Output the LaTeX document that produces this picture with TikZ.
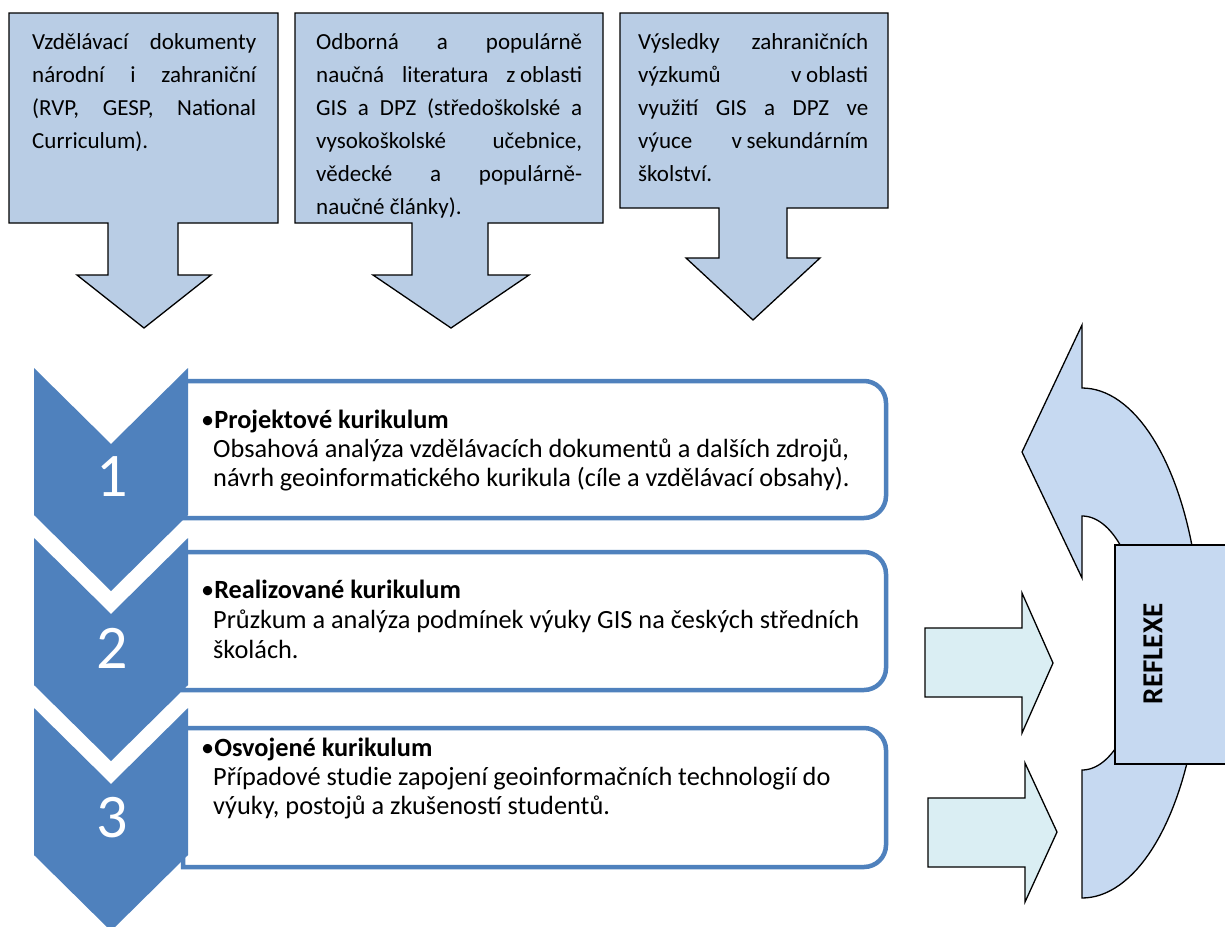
\documentclass[tikz,border=0pt]{standalone}
\usepackage{fontspec}
\setmainfont{Carlito}
\definecolor{chevblue}{HTML}{4F81BD}
\definecolor{callblue}{HTML}{B9CDE5}
\definecolor{refblue}{HTML}{C6D9F1}
\definecolor{arrcyan}{HTML}{DAEEF3}
\tikzset{
 callout/.style={fill=callblue, draw=black, line width=1.3pt, line join=miter},
 chev/.style={fill=chevblue, draw=none},
 rbox/.style={draw=chevblue, line width=4.5pt, fill=white},
 rarrow/.style={fill=arrcyan, draw=black, line width=1.3pt, line join=miter},
 reflexshape/.style={fill=refblue, draw=black, line width=1.3pt, line join=miter},
 ctext/.style={anchor=base west, inner sep=0pt, font=\fontsize{23}{27}\selectfont},
 btext/.style={anchor=base west, inner sep=0pt, font=\fontsize{26.3}{29}\selectfont},
 num/.style={text=white, font=\fontsize{62}{62}\selectfont, inner sep=0pt},
}
\newcommand{\jline}[2]{\makebox[#1pt][s]{#2}}
\begin{document}
\begin{tikzpicture}[x=1pt,y=-1pt]
\clip (0,0) rectangle (1225,926);
\fill[white] (0,0) rectangle (1225,926);
% ---- top callouts
\draw[callout] (9,13) -- (278,13) -- (278,223) -- (178,223) -- (178,275) -- (211,275) -- (144,328) -- (77,275) -- (108,275) -- (108,223) -- (9,223) -- cycle;
\draw[callout] (295,13) -- (603,13) -- (603,223) -- (488,223) -- (488,275) -- (529,275) -- (451,328) -- (373,275) -- (412,275) -- (412,223) -- (295,223) -- cycle;
\draw[callout] (620,13) -- (888,13) -- (888,208) -- (787,208) -- (787,258) -- (820,258) -- (753,320) -- (686,258) -- (719,258) -- (719,208) -- (620,208) -- cycle;
% callout 1 text
\node[ctext] (a1) at (32,49) {\jline{224}{Vzdělávací dokumenty}};
\node[ctext] (a2) at (32,82) {\jline{224}{národní i zahraniční}};
\node[ctext] (a3) at (32,115) {\jline{224}{(RVP, GESP, National}};
\node[ctext] (a4) at (32,148) {Curriculum).};
% callout 2 text
\node[ctext] (b1) at (316,49) {\jline{266}{Odborná a populárně}};
\node[ctext] (b2) at (316,82) {\jline{266}{naučná literatura z\hspace{0.2em}oblasti}};
\node[ctext] (b3) at (316,115) {\jline{266}{GIS a DPZ (středoškolské a}};
\node[ctext] (b4) at (316,148) {\jline{266}{vysokoškolské učebnice,}};
\node[ctext] (b5) at (316,181) {\jline{266}{vědecké a populárně-}};
\node[ctext] (b6) at (316,214) {naučné články).};
% callout 3 text
\node[ctext] (c1) at (638,49) {\jline{230}{Výsledky zahraničních}};
\node[ctext] (c2) at (638,82) {\jline{230}{výzkumů v\hspace{0.2em}oblasti}};
\node[ctext] (c3) at (638,115) {\jline{230}{využití GIS a DPZ ve}};
\node[ctext] (c4) at (638,148) {\jline{230}{výuce v\hspace{0.2em}sekundárním}};
\node[ctext] (c5) at (638,181) {školství.};
% ---- rounded boxes
\draw[rbox] (183,381) -- (864,381) .. controls (876.1,381) and (886,390.9) .. (886,403) -- (886,496) .. controls (886,508.1) and (876.1,518) .. (864,518) -- (183,518) -- cycle;
\draw[rbox] (183,552) -- (864,552) .. controls (876.1,552) and (886,561.9) .. (886,574) -- (886,668) .. controls (886,680.1) and (876.1,690) .. (864,690) -- (183,690) -- cycle;
\draw[rbox] (183,728) -- (864,728) .. controls (876.1,728) and (886,737.9) .. (886,750) -- (886,845) .. controls (886,857.1) and (876.1,867) .. (864,867) -- (183,867) -- cycle;
% ---- chevrons
\foreach \y in {368,538,708} {
  \fill[chev] (34,\y) -- (111,\y+76) -- (188,\y) -- (188,\y+147) -- (111,\y+223) -- (34,\y+147) -- cycle;
}
\node[num] (n1) at (112,477) {1};
\node[num] (n2) at (112,648) {2};
\node[num] (n3) at (112,818) {3};
% box texts
\node[btext] (h1) at (201,428) {•\textbf{Projektové kurikulum}};
\node[btext] (p11) at (213,457) {Obsahová analýza vzdělávacích dokumentů a dalších zdrojů,};
\node[btext] (p12) at (213,486) {návrh geoinformatického kurikula (cíle a vzdělávací obsahy).};
\node[btext] (h2) at (201,598) {•\textbf{Realizované kurikulum}};
\node[btext] (p21) at (213,628) {Průzkum a analýza podmínek výuky GIS na českých středních};
\node[btext] (p22) at (213,658) {školách.};
\node[btext] (h3) at (201,756) {•\textbf{Osvojené kurikulum}};
\node[btext] (p31) at (213,785) {Případové studie zapojení geoinformačních technologií do};
\node[btext] (p32) at (213,814) {výuky, postojů a zkušeností studentů.};
% ---- right arrows
\draw[rarrow] (925,628) -- (1022,628) -- (1022,593) -- (1053,663) -- (1022,733) -- (1022,697) -- (925,697) -- cycle;
\draw[rarrow] (928,798) -- (1025,798) -- (1025,763) -- (1057,832) -- (1025,902) -- (1025,867) -- (928,867) -- cycle;
% ---- curved arrow
\draw[reflexshape] (1082,325) -- (1082,388) -- plot[domain=-90:90,samples=80] ({1082+119*cos(\x)},{643+255*sin(\x)}) -- (1082,770) -- plot[domain=90:-90,samples=80] ({1082+60*cos(\x)},{643+127*sin(\x)}) -- (1082,578) -- (1022,452) -- cycle;
% ---- REFLEXE box
\draw[reflexshape] (1115,545) rectangle (1240,764);
\node[rotate=90, inner sep=0pt, font=\fontsize{29}{29}\selectfont\bfseries] (reflexe) at (1153,654) {REFLEXE};
\end{tikzpicture}
\end{document}
